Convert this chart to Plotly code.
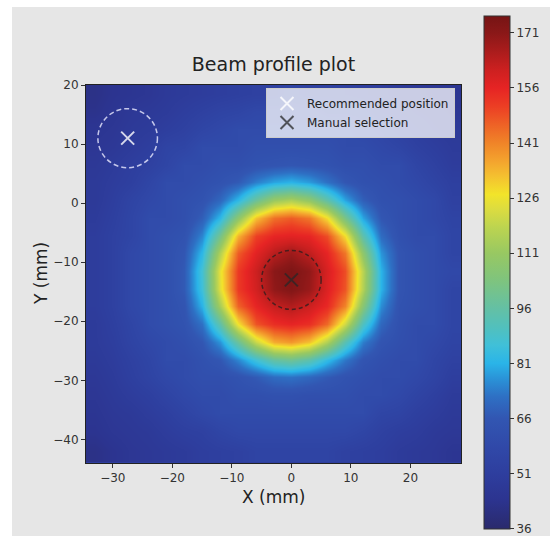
import plotly.graph_objects as go

# ---------------- data ----------------
x_mm = [-33, -30, -27, -24, -21, -18, -15, -12, -9, -6, -3, 0, 3, 6, 9, 12, 15, 18, 21, 24, 27]
y_mm_top_down = [18.5, 15.5, 12.5, 9.5, 6.5, 3.5, 0.5, -2.5, -5.5, -8.5, -11.5, -14.5,
                 -17.5, -20.5, -23.5, -26.5, -29.5, -32.5, -35.5, -38.5, -42]
intensity_top_down = [
    [42, 44, 45, 46, 48, 49, 50, 51, 52, 53, 53, 55, 53, 53, 52, 51, 50, 48, 47, 46, 45],
    [43, 45, 47, 48, 49, 51, 53, 55, 56, 58, 58, 58, 58, 56, 56, 55, 52, 51, 49, 48, 46],
    [45, 46, 48, 49, 51, 53, 56, 58, 60, 60, 60, 60, 60, 60, 60, 58, 56, 53, 51, 49, 48],
    [46, 47, 49, 51, 55, 56, 60, 60, 60, 62, 62, 62, 62, 62, 60, 60, 58, 56, 53, 51, 49],
    [47, 49, 51, 53, 56, 60, 60, 62, 62, 64, 65, 66, 65, 64, 62, 62, 60, 60, 56, 53, 50],
    [48, 50, 52, 56, 60, 60, 62, 64, 67, 74, 79, 81, 78, 72, 66, 63, 62, 60, 58, 55, 52],
    [48, 51, 55, 58, 60, 62, 64, 70, 82, 98, 111, 115, 109, 95, 79, 68, 63, 62, 60, 58, 53],
    [49, 52, 56, 60, 60, 62, 68, 82, 108, 132, 144, 147, 143, 128, 102, 79, 66, 62, 60, 58, 55],
    [50, 53, 56, 60, 62, 64, 75, 101, 134, 151, 156, 157, 156, 149, 128, 94, 71, 63, 60, 60, 56],
    [50, 53, 58, 60, 62, 66, 82, 116, 147, 157, 164, 168, 163, 156, 143, 108, 77, 65, 62, 60, 56],
    [50, 53, 58, 60, 62, 67, 87, 125, 152, 161, 171, 174, 170, 159, 149, 117, 81, 65, 62, 60, 58],
    [50, 53, 58, 60, 62, 67, 86, 124, 152, 160, 170, 173, 169, 158, 148, 116, 81, 65, 62, 60, 56],
    [50, 53, 58, 60, 62, 65, 81, 114, 146, 156, 162, 165, 161, 155, 141, 106, 76, 64, 62, 60, 56],
    [49, 52, 56, 60, 62, 64, 72, 95, 127, 148, 154, 156, 154, 145, 121, 90, 70, 63, 60, 60, 56],
    [49, 51, 55, 58, 60, 62, 66, 77, 98, 120, 135, 138, 132, 116, 93, 74, 65, 62, 60, 58, 55],
    [48, 50, 53, 56, 60, 60, 63, 66, 75, 86, 96, 99, 94, 83, 73, 65, 62, 60, 60, 56, 53],
    [47, 49, 52, 55, 58, 60, 62, 62, 64, 67, 71, 72, 70, 67, 64, 62, 60, 60, 58, 55, 51],
    [46, 48, 50, 52, 55, 58, 60, 60, 62, 62, 63, 63, 62, 62, 62, 60, 60, 58, 55, 52, 49],
    [45, 47, 48, 50, 52, 55, 58, 60, 60, 60, 60, 60, 60, 60, 60, 60, 56, 55, 52, 50, 48],
    [44, 46, 47, 48, 50, 52, 53, 56, 58, 58, 58, 58, 58, 58, 58, 56, 53, 51, 50, 48, 47],
    [42, 44, 46, 47, 48, 49, 51, 52, 53, 55, 55, 55, 55, 55, 53, 52, 51, 49, 48, 47, 45],
]
z_min, z_max = 35.9, 175.6
colorbar_ticks = [36, 51, 66, 81, 96, 111, 126, 141, 156, 171]

recommended_x, recommended_y = [-27.5], [11]
manual_x, manual_y = [0], [-13]
circle_radius = 5

x_ticks = [-30, -20, -10, 0, 10, 20]
y_ticks = [-40, -30, -20, -10, 0, 10, 20]

# ---------------- colour map (style) ----------------
cmap_vals = [35.9, 44, 51, 58, 66, 72, 77, 81, 86, 91, 96, 104, 111, 118, 123, 127,
             132, 136, 141, 146, 151, 156, 161, 166, 171, 175.6]
cmap_cols = ["#2a2a6c", "#2c3490", "#2e3e9e", "#3048a8", "#3256b2", "#2e70c4", "#2a94d8",
             "#2ab4e8", "#40c0d8", "#52c0bc", "#64c0a4", "#80c47c", "#98c862", "#bcd450",
             "#dcdc40", "#f2e42a", "#f4c030", "#f4a42e", "#f08428", "#ee6226", "#ec3e24",
             "#e62424", "#cc2020", "#aa1c1c", "#8a1818", "#761414"]
colorscale = [[(v - z_min) / (z_max - z_min), c] for v, c in zip(cmap_vals, cmap_cols)]

FONT = "DejaVu Sans"
W, H = 550, 536
L, R, T, B = 86, 89, 85, 73
pw, ph = W - L - R, H - T - B

fig = go.Figure()
fig.add_trace(go.Heatmap(
    x=x_mm, y=y_mm_top_down[::-1], z=intensity_top_down[::-1],
    zmin=z_min, zmax=z_max, colorscale=colorscale, zsmooth="best",
    colorbar=dict(
        x=(484 - L) / pw, xanchor="left", xpad=0, ypad=0,
        y=(H - B - 272.5) / ph, yanchor="middle",
        len=513, lenmode="pixels", thickness=26, thicknessmode="pixels",
        outlinewidth=1, outlinecolor="#333",
        tickvals=colorbar_ticks, ticks="outside", ticklen=4, tickcolor="#333",
        tickfont=dict(family=FONT, size=12, color="#333"),
    ),
    hoverinfo="skip",
))

fig.add_trace(go.Scatter(
    x=recommended_x, y=recommended_y, mode="markers", name="Recommended position",
    marker=dict(symbol="x-thin", size=13, color="rgba(255,255,255,0.8)",
                line=dict(width=2, color="rgba(255,255,255,0.8)")),
))
fig.add_trace(go.Scatter(
    x=manual_x, y=manual_y, mode="markers", name="Manual selection",
    marker=dict(symbol="x-thin", size=13, color="rgba(40,40,40,0.75)",
                line=dict(width=2, color="rgba(40,40,40,0.75)")),
))

shapes = [
    dict(type="rect", xref="paper", yref="paper", x0=-1, x1=2,
         y0=(H - B - 7) / ph, y1=2, fillcolor="white", line_width=0, layer="below"),
    dict(type="rect", xref="paper", yref="paper", x0=-1, x1=(12 - L) / pw,
         y0=-1, y1=2, fillcolor="white", line_width=0, layer="below"),
    dict(type="circle", xref="x", yref="y",
         x0=recommended_x[0] - circle_radius, x1=recommended_x[0] + circle_radius,
         y0=recommended_y[0] - circle_radius, y1=recommended_y[0] + circle_radius,
         line=dict(color="rgba(235,235,255,0.8)", width=1.5, dash="5px,3px")),
    dict(type="circle", xref="x", yref="y",
         x0=manual_x[0] - circle_radius, x1=manual_x[0] + circle_radius,
         y0=manual_y[0] - circle_radius, y1=manual_y[0] + circle_radius,
         line=dict(color="rgba(30,30,30,0.7)", width=1.5, dash="4px,3px")),
]

axis_common = dict(showgrid=False, zeroline=False, showline=True, mirror=True,
                   linecolor="#222", linewidth=1, ticks="outside", ticklen=4,
                   tickcolor="#333", tickfont=dict(family=FONT, size=12, color="#333"))

fig.update_layout(
    width=W, height=H, margin=dict(l=L, r=R, t=T, b=B, autoexpand=False),
    paper_bgcolor="#e6e6e6", plot_bgcolor="#2e3e9e",
    font=dict(family=FONT, color="#222"),
    title=dict(text="Beam profile plot", x=0.5, xref="paper", xanchor="center",
               y=1 - 64 / H, yanchor="middle", font=dict(family=FONT, size=19, color="#222")),
    xaxis=dict(range=[-34.5, 28.5], tickvals=x_ticks, **axis_common),
    yaxis=dict(range=[-44, 20], tickvals=y_ticks, **axis_common),
    shapes=shapes,
    legend=dict(x=(455 - L) / pw, xanchor="right", y=(H - B - 88) / ph, yanchor="top",
                bgcolor="rgba(255,255,255,0.75)", bordercolor="#cccccc", borderwidth=1,
                font=dict(family=FONT, size=12, color="#222"), tracegroupgap=0),
    annotations=[
        dict(text="X (mm)", xref="paper", yref="paper", x=0.5, y=(H - B - 497) / ph,
             xanchor="center", yanchor="middle", showarrow=False,
             font=dict(family=FONT, size=17, color="#222")),
        dict(text="Y (mm)", xref="paper", yref="paper", x=(41 - L) / pw, y=0.5,
             xanchor="center", yanchor="middle", showarrow=False, textangle=-90,
             font=dict(family=FONT, size=17, color="#222")),
    ],
)

fig.write_html("out.html")
